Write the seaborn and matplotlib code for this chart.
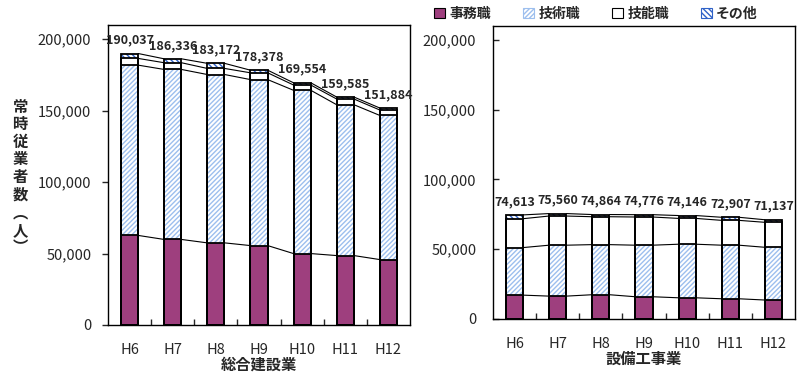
import numpy as np
import seaborn as sns
import matplotlib.pyplot as plt
from matplotlib.patches import Patch
from matplotlib.ticker import FuncFormatter

# Data (人)
years = ["H6", "H7", "H8", "H9", "H10", "H11", "H12"]
groups = ["事務職", "技術職", "技能職", "その他"]

# 総合建設業
gen_jimu = [62700, 59900, 57500, 55600, 50000, 48600, 45800]
gen_gijutsu = [119200, 119000, 117850, 116200, 114300, 105600, 100900]
gen_ginou = [4700, 4700, 4250, 4750, 3700, 4000, 3800]
gen_other = [3437, 2736, 3572, 1828, 1554, 1385, 1384]
gen_total = [190037, 186336, 183172, 178378, 169554, 159585, 151884]

# 設備工事業
eq_jimu = [17100, 16400, 17400, 15950, 15200, 14500, 13600]
eq_gijutsu = [34100, 36500, 35900, 36950, 38400, 38400, 37800]
eq_ginou = [20700, 20900, 20000, 20200, 18500, 17800, 17900]
eq_other = [2713, 1760, 1564, 1676, 2046, 2207, 1837]
eq_total = [74613, 75560, 74864, 74776, 74146, 72907, 71137]

purple = "#9e3f7e"
light_blue = "#9dbfee"
dark_blue = "#2f62c8"

# face, edge(hatch) colour, hatch for each group
styles = [
    (purple, purple, None),
    ("white", light_blue, "///////"),
    ("white", "white", None),
    ("white", dark_blue, "\\\\\\\\\\\\"),
]

sns.set_style("white")
plt.rcParams['font.family'] = ['Noto Sans CJK JP', 'DejaVu Sans']
plt.rcParams['hatch.linewidth'] = 1.0

fig = plt.figure(figsize=(8.02, 3.84), dpi=100)
ax1 = fig.add_axes([108 / 802, 59 / 384, 302 / 802, 300 / 384])
ax2 = fig.add_axes([493 / 802, 65 / 384, 302 / 802, 293 / 384])


def draw_panel(ax, parts, totals, xlabel, tick_dir, ypad):
    stack = np.cumsum(np.array(parts), axis=0)
    # fills, drawn from the top layer down so lower layers cover them
    for k in reversed(range(len(parts))):
        face, edge, hatch = styles[k]
        sns.barplot(x=years, y=stack[k], color=face, edgecolor=edge, hatch=hatch,
                    linewidth=0, width=0.4, saturation=1, errorbar=None, ax=ax)
    # outlines of each segment
    for k in range(len(parts)):
        sns.barplot(x=years, y=stack[k], color="black", fill=False, linewidth=1.3,
                    width=0.4, errorbar=None, ax=ax)
    # series lines between bars
    for k in range(len(parts)):
        for i in range(len(years) - 1):
            ax.plot([i + 0.2, i + 0.8], [stack[k][i], stack[k][i + 1]],
                    color="black", lw=0.8, zorder=5)
    for i, t in enumerate(totals):
        ax.annotate(f"{t:,}", (i, t), xytext=(0, 5), textcoords="offset points",
                    ha="center", va="bottom", fontsize=9, fontweight="bold")

    ax.set_xlim(-0.5, len(years) - 0.5)
    ax.set_ylim(0, 210000)
    ax.set_yticks(range(0, 200001, 50000))
    ax.yaxis.set_major_formatter(FuncFormatter(lambda v, p: f"{int(v):,}"))
    ax.tick_params(axis="y", direction=tick_dir, length=4, width=1, pad=ypad,
                   labelsize=10.5, left=True)
    ax.set_xticks(np.arange(0.5, len(years) - 1, 1), minor=True)
    ax.tick_params(axis="x", which="major", length=0, pad=13, labelsize=10.5)
    ax.tick_params(axis="x", which="minor", direction="in", length=4, width=1, bottom=True)
    ax.set_xlabel(xlabel, fontsize=11, fontweight="bold", labelpad=0)
    ax.set_ylabel("")
    for s in ax.spines.values():
        s.set_visible(True)
        s.set_color("black")
        s.set_linewidth(1)


draw_panel(ax1, [gen_jimu, gen_gijutsu, gen_ginou, gen_other], gen_total,
           "総合建設業", "out", 8)
draw_panel(ax2, [eq_jimu, eq_gijutsu, eq_ginou, eq_other], eq_total,
           "設備工事業", "in", 12)

fig.text(20 / 802, 1 - 177 / 384, "常\n時\n従\n業\n者\n数\n︵\n人\n︶",
         ha="center", va="center", fontsize=11, fontweight="bold", linespacing=1.12)

handles = []
for face, edge, hatch in styles:
    if hatch is None:
        handles.append(Patch(facecolor=face, edgecolor="black", linewidth=0.8))
    else:
        handles.append(Patch(facecolor=face, edgecolor=edge, hatch=hatch, linewidth=0.8))
fig.legend(handles, groups, loc="center", bbox_to_anchor=(596 / 802, 1 - 14 / 384),
           ncol=4, frameon=False, handlelength=0.8, handleheight=0.8,
           handletextpad=0.3, columnspacing=2.3, prop={"size": 10, "weight": "bold"})

fig.savefig("out.png", dpi=100)
